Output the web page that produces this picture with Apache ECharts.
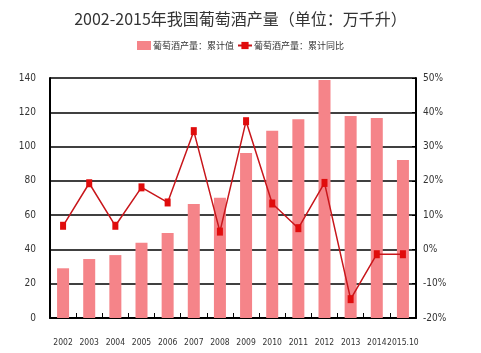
<!DOCTYPE html>
<html>
<head>
<meta charset="utf-8">
<script src="https://cdn.jsdelivr.net/npm/echarts@6/dist/echarts.min.js"></script>
<style>
html, body { margin: 0; padding: 0; background: #fff; }
#myChart { width: 481px; height: 353px; }
</style>
</head>
<body>
<div id="myChart"></div>
<script>
// 数据：估计值
var years = ['2002', '2003', '2004', '2005', '2006', '2007', '2008', '2009', '2010', '2011', '2012', '2013', '2014', '2015.10'];
var output = [29, 34.4, 36.7, 43.9, 49.6, 66.5, 70.2, 96.3, 109.3, 116, 138.8, 117.8, 116.7, 92.2];
var growth = [6.9, 19.3, 6.9, 18.1, 13.7, 34.5, 5.2, 37.4, 13.4, 6.2, 19.4, -14.5, -1.4, -1.4];
var leftTicks = [0, 140, 20];
var rightTicks = [-20, 50, 10];

var narrow = '"DejaVu Sans Condensed", "Liberation Sans Narrow", "Liberation Sans", sans-serif';

var myChart = echarts.init(document.getElementById('myChart'));
var option = {
    backgroundColor: '#fff',
    animation: false,
    title: {
        text: '2002-2015年我国葡萄酒产量（单位：万千升）',
        left: 'center',
        top: 6,
        textStyle: {
            fontSize: 16,
            fontWeight: 'normal',
            color: '#333',
            fontFamily: '"Noto Sans CJK SC", sans-serif'
        }
    },
    legend: {
        top: 36,
        left: 'center',
        itemGap: 3,
        itemWidth: 14,
        itemHeight: 9,
        textStyle: {
            fontSize: 9,
            color: '#333',
            padding: [0, 0, 0, -3],
            fontFamily: '"Noto Sans CJK SC", sans-serif'
        },
        data: [
            { name: '葡萄酒产量：累计值', icon: 'rect' },
            { name: '葡萄酒产量：累计同比' }
        ]
    },
    grid: {
        left: 50,
        right: 65,
        top: 78,
        bottom: 35
    },
    xAxis: {
        type: 'category',
        data: years,
        axisLine: { lineStyle: { color: '#000', width: 2 } },
        axisTick: { show: true, inside: true, length: 5, lineStyle: { color: '#000' } },
        axisLabel: {
            interval: 0, // 全部显示
            margin: 20,
            fontSize: 8.5,
            color: '#333',
            fontFamily: narrow
        }
    },
    yAxis: [{
        type: 'value',
        min: leftTicks[0],
        max: leftTicks[1],
        interval: leftTicks[2],
        axisLine: { show: true, lineStyle: { color: '#000', width: 2 } },
        axisTick: { show: false },
        splitLine: { lineStyle: { color: '#000', width: 1.5 } },
        axisLabel: { fontSize: 10, color: '#333', margin: 14, fontFamily: narrow }
    }, {
        type: 'value',
        min: rightTicks[0],
        max: rightTicks[1],
        interval: rightTicks[2],
        axisLine: { show: true, lineStyle: { color: '#000', width: 2 } },
        axisTick: { show: true, inside: true, length: 4, lineStyle: { color: '#000' } },
        splitLine: { show: false },
        axisLabel: { formatter: '{value}%', fontSize: 10, color: '#333', margin: 7, fontFamily: narrow }
    }],
    series: [{
        name: '葡萄酒产量：累计值',
        type: 'bar',
        data: output,
        barWidth: 12,
        itemStyle: { color: '#f58489' }
    }, {
        name: '葡萄酒产量：累计同比',
        type: 'line',
        yAxisIndex: 1,
        data: growth,
        symbol: 'rect',
        symbolSize: [6, 8],
        lineStyle: { color: '#c8161b', width: 1.5 },
        itemStyle: { color: '#e00c0c' }
    }]
};
myChart.setOption(option);
</script>
</body>
</html>
